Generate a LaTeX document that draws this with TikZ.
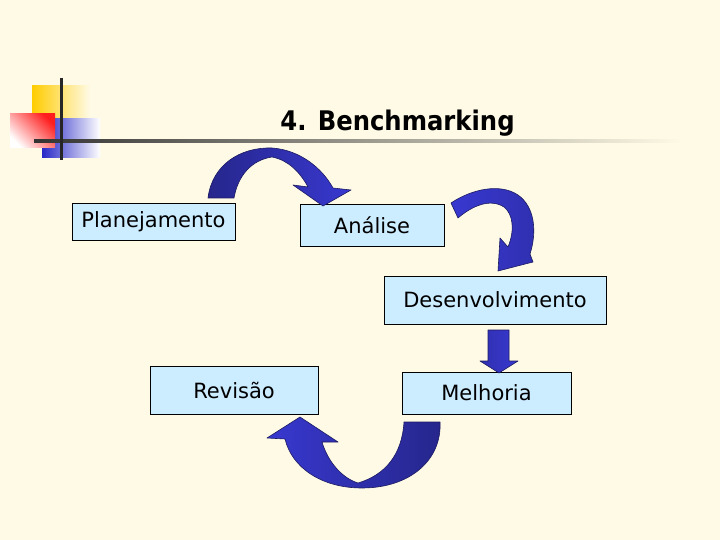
\documentclass[tikz,border=0pt]{standalone}
\usepackage{fontspec}
\setmainfont{DejaVu Sans}
\newfontfamily\titlefont{DejaVu Sans}[FakeStretch=0.9]
\definecolor{bg}{RGB}{255,250,230}
\definecolor{boxblue}{RGB}{204,236,255}
\definecolor{arrowblue}{RGB}{56,56,208}
\definecolor{arrowdark}{RGB}{38,38,140}
\definecolor{logoyellow}{RGB}{255,204,0}
\definecolor{logored}{RGB}{255,30,30}
\definecolor{logoblue}{RGB}{40,40,200}
\tikzset{
  stepbox/.style={draw=black, line width=0.7pt, fill=boxblue, rectangle, inner sep=0pt,
    font=\fontsize{21}{25}\selectfont},
  blockarrow/.style={draw=arrowdark!70!black, line width=0.6pt, line join=round},
}
\begin{document}
\begin{tikzpicture}[x=1pt,y=-1pt]
\fill[bg] (0,0) rectangle (720,540);
\useasboundingbox (0,0) rectangle (720,540);
% logo
\shade[left color=logoyellow, middle color=logoyellow, right color=bg] (32,86) rectangle (90,125);
\shade[left color=logoblue, middle color=logoblue, right color=white] (42,119) rectangle (100,158);
\shade[top color=logored, bottom color=white, shading angle=-45] (10,114) rectangle (55,148);
\shade[left color=black!80, middle color=black!45, right color=bg] (34,139.5) rectangle (682,142.5);
\draw[line width=3pt, black!85] (61,78) -- (61,160);
% title
\node[anchor=base, font=\titlefont\bfseries\fontsize{27}{32}\selectfont] (title) at (397.5,131) {4. Benchmarking};
% boxes
\node[stepbox, minimum width=163pt, minimum height=37pt] (plan) at (153.5,221.5) {Planejamento};
\node[stepbox, minimum width=144pt, minimum height=42pt] (anal) at (372,225) {Análise};
\node[stepbox, minimum width=222pt, minimum height=48pt] (desen) at (495,300) {Desenvolvimento};
\node[stepbox, minimum width=169pt, minimum height=42pt] (melh) at (486.5,393) {Melhoria};
\node[stepbox, minimum width=168pt, minimum height=48pt] (rev) at (234,390) {Revisão};
% arrow plan -> anal
\shade[blockarrow, left color=arrowdark, right color=arrowblue]
  (208,198) .. controls (212,165) and (240,147) .. (272,148)
  .. controls (300,150) and (322,168) .. (333,188)
  -- (351,190) -- (323,206) -- (293,185) -- (308,187)
  .. controls (300,172) and (288,160) .. (272,157)
  .. controls (252,160) and (238,175) .. (234,198) -- cycle;
% arrow anal -> desen
\shade[blockarrow, left color=arrowblue, right color=arrowblue!85!black]
  (451,203) .. controls (472,189) and (500,183) .. (518,195)
  .. controls (535,207) and (537,232) .. (530,254)
  -- (533,262) -- (498,271) -- (500,238) -- (508,247)
  .. controls (515,230) and (513,214) .. (504,207)
  .. controls (490,198) and (472,206) .. (458,218) -- cycle;
% arrow desen -> melh
\shade[blockarrow, left color=arrowblue!85!black, right color=arrowblue]
  (488,330) -- (509,330) -- (509,361) -- (518,361) -- (499,373) -- (480,361) -- (488,361) -- cycle;
% arrow melh -> rev
\shade[blockarrow, left color=arrowblue, right color=arrowdark]
  (440,422) .. controls (442,460) and (410,488) .. (362,488)
  .. controls (322,488) and (292,468) .. (285,439)
  -- (267,438) -- (300,417) -- (338,442) -- (322,442)
  .. controls (328,462) and (342,478) .. (358,483)
  .. controls (385,475) and (402,455) .. (404,422) -- cycle;
\end{tikzpicture}
\end{document}
